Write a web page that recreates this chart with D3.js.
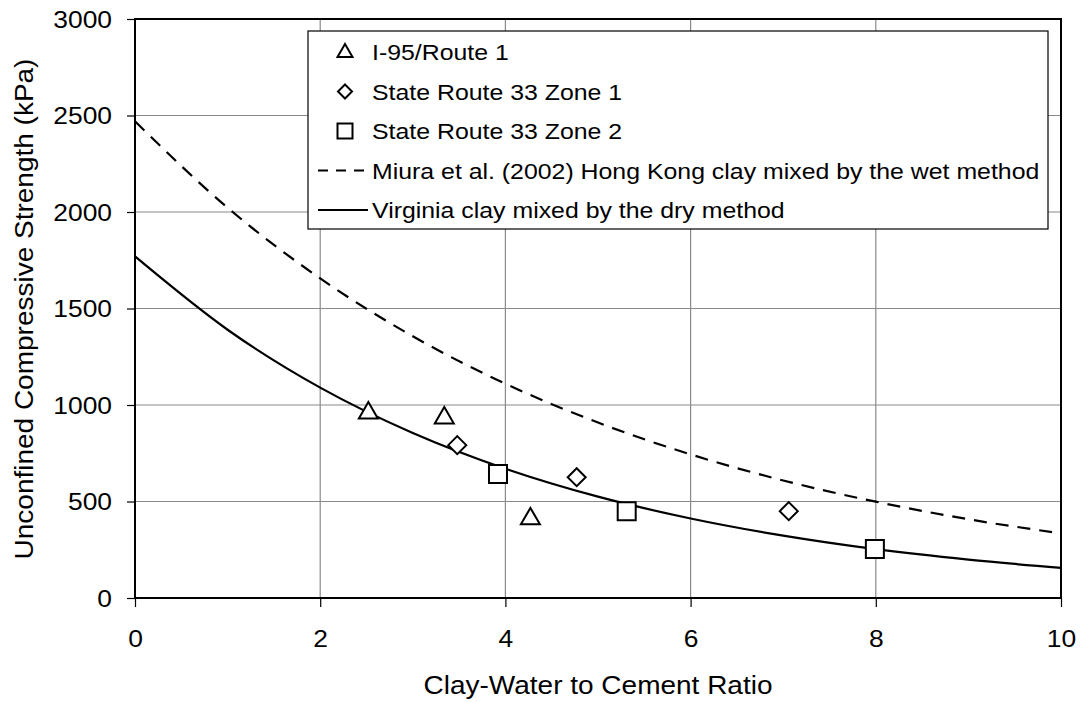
<!DOCTYPE html>
<html>
<head>
<meta charset="utf-8">
<script src="https://cdn.jsdelivr.net/npm/d3@7"></script>
<style>
  html, body { margin: 0; padding: 0; background: #fff; }
  svg { display: block; font-family: "Liberation Sans", Arial, Helvetica, sans-serif; }
</style>
</head>
<body>
<svg id="chart" width="1081" height="702"></svg>
<script>
// ---- Data ----
const xTicks = [0, 2, 4, 6, 8, 10];
const yTicks = [0, 500, 1000, 1500, 2000, 2500, 3000];

const i95X = [2.52, 3.34, 4.27];
const i95Y = [963, 937, 414];

const sr33z1X = [3.48, 4.77, 7.06];
const sr33z1Y = [792, 626, 450];

const sr33z2X = [3.92, 5.31, 7.99];
const sr33z2Y = [642, 450, 254];

const curveX = [0, 1, 2, 3, 4, 5, 6, 7, 8, 9, 10];
const miuraY = [2470, 2022, 1656, 1356, 1110, 909, 744, 609, 499, 408, 335];
const virginiaY = [1770, 1390, 1090, 855, 670, 525, 412, 323, 253, 199, 156];

const legendLabels = [
  "I-95/Route 1",
  "State Route 33 Zone 1",
  "State Route 33 Zone 2",
  "Miura et al. (2002) Hong Kong clay mixed by the wet method",
  "Virginia clay mixed by the dry method"
];

const xTitle = "Clay-Water to Cement Ratio";
const yTitle = "Unconfined Compressive Strength (kPa)";

// ---- Layout ----
const W = 1081, H = 702;
const margin = { left: 135, right: 20, top: 19, bottom: 104 };
const pw = W - margin.left - margin.right;
const ph = H - margin.top - margin.bottom;

const svg = d3.select("#chart");
const g = svg.append("g").attr("transform", `translate(${margin.left},${margin.top})`);

const x = d3.scaleLinear().domain([0, 10]).range([0, pw]);
const y = d3.scaleLinear().domain([0, 3000]).range([ph, 0]);

// gridlines
g.append("g").selectAll("line").data(yTicks).join("line")
  .attr("x1", 0).attr("x2", pw)
  .attr("y1", d => y(d)).attr("y2", d => y(d))
  .attr("stroke", "#8a8a8a").attr("stroke-width", 1.2);
g.append("g").selectAll("line").data(xTicks).join("line")
  .attr("y1", 0).attr("y2", ph)
  .attr("x1", d => x(d)).attr("x2", d => x(d))
  .attr("stroke", "#8a8a8a").attr("stroke-width", 1.2);

// axes
const xAxis = g.append("g").attr("transform", `translate(0,${ph})`)
  .call(d3.axisBottom(x).tickValues(xTicks).tickSize(9).tickFormat(d3.format("d")));
const yAxis = g.append("g")
  .call(d3.axisLeft(y).tickValues(yTicks).tickSize(8).tickFormat(d3.format("d")));
[xAxis, yAxis].forEach(a => {
  a.select(".domain").remove();
  a.selectAll(".tick line").attr("stroke", "#000").attr("stroke-width", 1.2);
  a.selectAll(".tick text").attr("fill", "#000")
    .style("font-size", "24px").style("font-family", "'Liberation Sans', Arial, sans-serif");
});
xAxis.selectAll(".tick text").attr("x", 0).attr("y", 0).attr("dy", null)
  .attr("text-anchor", "middle").attr("transform", "translate(0,49) scale(1.1,1)");
yAxis.selectAll(".tick text").attr("x", 0).attr("y", 0).attr("dy", "0.35em")
  .attr("text-anchor", "end").attr("transform", "translate(-23,0) scale(1.1,1)");

// plot border
g.append("rect").attr("x", 0).attr("y", 0).attr("width", pw).attr("height", ph)
  .attr("fill", "none").attr("stroke", "#000").attr("stroke-width", 2);

// curves
const line = d3.line().x(d => x(d[0])).y(d => y(d[1])).curve(d3.curveMonotoneX);
g.append("path").datum(curveX.map((v, i) => [v, miuraY[i]]))
  .attr("d", line).attr("fill", "none").attr("stroke", "#000")
  .attr("stroke-width", 2.2).attr("stroke-dasharray", "13,9");
g.append("path").datum(curveX.map((v, i) => [v, virginiaY[i]]))
  .attr("d", line).attr("fill", "none").attr("stroke", "#000")
  .attr("stroke-width", 2.2);

// marker shapes
function triPath(s) { const h = s * 0.866; return `M0,${-h*0.62} L${s/2},${h*0.38} L${-s/2},${h*0.38} Z`; }
function diaPath(s) { return `M0,${-s/2} L${s/2},0 L0,${s/2} L${-s/2},0 Z`; }
function sqPath(s) { return `M${-s/2},${-s/2} H${s/2} V${s/2} H${-s/2} Z`; }

function drawMarkers(xs, ys, pathFn, size) {
  g.append("g").selectAll("path").data(xs.map((v, i) => [v, ys[i]])).join("path")
    .attr("transform", d => `translate(${x(d[0])},${y(d[1])})`)
    .attr("d", pathFn(size))
    .attr("fill", "#fff").attr("stroke", "#000").attr("stroke-width", 2);
}
drawMarkers(i95X, i95Y, triPath, 19);
drawMarkers(sr33z1X, sr33z1Y, diaPath, 18);
drawMarkers(sr33z2X, sr33z2Y, sqPath, 18);

// legend
const lg = svg.append("g");
const lgX = 308, lgY = 31, lgW = 740, lgH = 198;
lg.append("rect").attr("x", lgX).attr("y", lgY).attr("width", lgW).attr("height", lgH)
  .attr("fill", "#fff").attr("stroke", "#000").attr("stroke-width", 1.2);
const rowY = i => 52 + i * 39.5;
const symX = 345;
const legendSym = [triPath, diaPath, sqPath];
legendSym.forEach((fn, i) => {
  lg.append("path").attr("transform", `translate(${symX},${rowY(i)})`)
    .attr("d", fn(i === 1 ? 14 : 15)).attr("fill", "#fff").attr("stroke", "#000").attr("stroke-width", 2);
});
lg.append("line").attr("x1", 318).attr("x2", 368).attr("y1", rowY(3)).attr("y2", rowY(3))
  .attr("stroke", "#000").attr("stroke-width", 2).attr("stroke-dasharray", "10,8");
lg.append("line").attr("x1", 318).attr("x2", 368).attr("y1", rowY(4)).attr("y2", rowY(4))
  .attr("stroke", "#000").attr("stroke-width", 2);
lg.selectAll("text").data(legendLabels).join("text")
  .attr("transform", (d, i) => `translate(372,${rowY(i) + 8}) scale(1.13,1)`)
  .style("font-size", "22px").attr("fill", "#000").text(d => d);

// axis titles
svg.append("text").attr("transform", `translate(${margin.left + pw / 2},694) scale(1.12,1)`)
  .attr("text-anchor", "middle").style("font-size", "25px").text(xTitle);
svg.append("text").attr("transform", `translate(33,309) rotate(-90) scale(1.12,1)`)
  .attr("text-anchor", "middle").style("font-size", "25px").text(yTitle);
</script>
</body>
</html>
